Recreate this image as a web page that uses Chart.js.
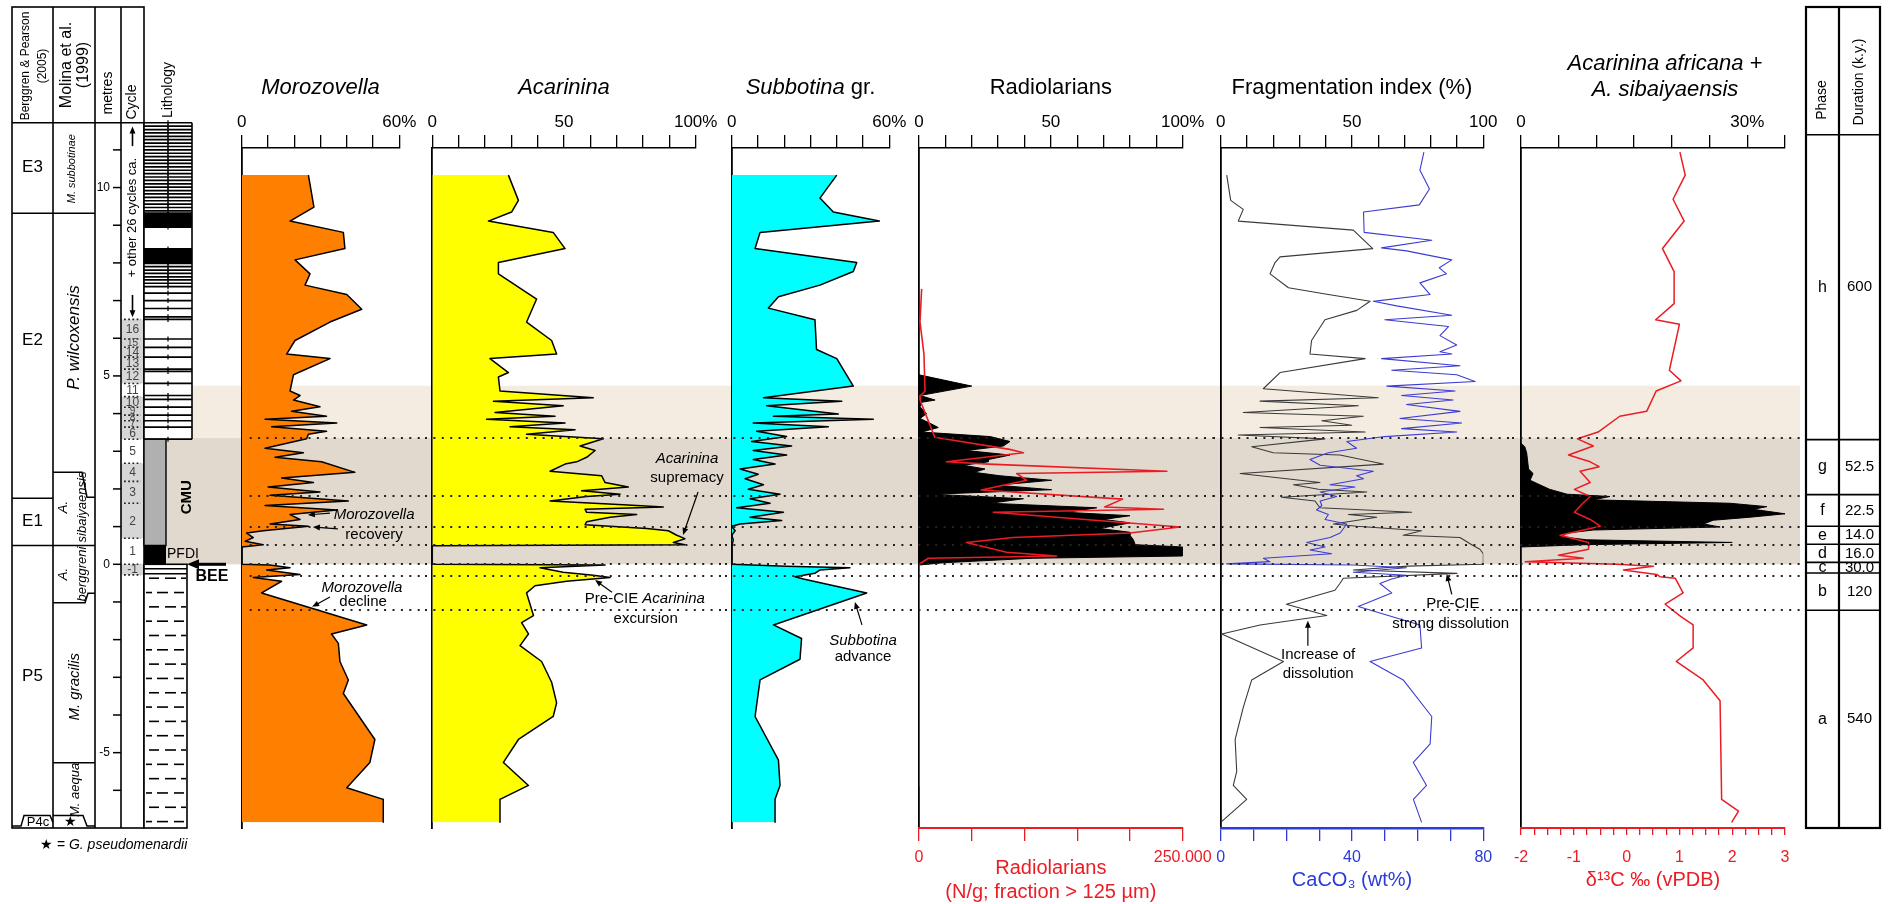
<!DOCTYPE html>
<html>
<head>
<meta charset="utf-8">
<title>Foraminiferal and geochemical profiles across the PETM</title>
<script src="https://cdn.jsdelivr.net/npm/chart.js@4.4.1/dist/chart.umd.min.js"></script>
<style>
  html, body { margin:0; padding:0; background:#fff; }
  body { width:1888px; height:904px; position:relative; overflow:hidden; }
  canvas { position:absolute; top:0; }
</style>
</head>
<body>
<canvas id="cStrat"></canvas>
<canvas id="cMoro"></canvas>
<canvas id="cAcar"></canvas>
<canvas id="cSubb"></canvas>
<canvas id="cRadio"></canvas>
<canvas id="cFrag"></canvas>
<canvas id="cAfr"></canvas>
<canvas id="cPhase"></canvas>
<script>
const FONT = "'Liberation Sans', Arial, Helvetica, sans-serif";
Chart.defaults.font.family = FONT;
Chart.defaults.color = '#000';

// ---------------- shared depth axis (metres) ----------------
const DEPTH_MIN = -7.0;
const DEPTH_MAX = 11.05;

// ---------------- Morozovella (%) ----------------
const moroDepth = [10.33, 9.48, 9.11, 8.81, 8.38, 8.08, 7.71, 7.41, 7.16, 6.77, 6.43, 5.94, 5.58, 5.46, 5.03, 4.60, 4.48, 4.36, 4.18, 4.06, 3.93, 3.85, 3.75, 3.65, 3.53, 3.45, 3.33, 3.08, 2.96, 2.84, 2.72, 2.44, 2.29, 2.17, 2.05, 1.92, 1.83, 1.68, 1.56, 1.44, 1.32, 1.19, 1.07, 1.01, 0.89, 0.83, 0.71, 0.61, 0.52, 0.46, 0.0, -0.02, -0.09, -0.15, -0.27, -0.35, -0.45, -0.76, -1.61, -1.85, -2.10, -2.58, -3.07, -3.43, -4.65, -5.26, -5.93, -6.24, -6.85];
const moroPct = [25.4, 27.5, 18.4, 38.7, 39.3, 20.3, 26.0, 24.1, 40.0, 45.7, 33.6, 20.3, 17.1, 33.6, 19.7, 18.4, 22.2, 19.7, 29.8, 19.0, 32.3, 8.9, 36.2, 11.4, 32.3, 25.4, 24.7, 8.9, 23.5, 12.7, 30.4, 43.1, 15.2, 27.3, 10.1, 29.8, 10.8, 40.6, 8.9, 36.2, 18.4, 22.2, 10.8, 25.4, 8.2, 1.9, 4.4, 1.3, 8.2, 0, 0, 10.8, 18.4, 9.5, 22.2, 4.4, 15.2, 7.6, 47.6, 34.2, 36.8, 37.4, 40.6, 38.7, 50.7, 48.8, 40.0, 53.9, 53.9];

// ---------------- Acarinina (%) ----------------
const acarDepth = [10.33, 9.66, 9.35, 9.11, 8.81, 8.38, 8.01, 7.71, 7.04, 6.43, 5.94, 5.58, 5.46, 5.09, 4.97, 4.60, 4.42, 4.33, 4.21, 4.03, 3.93, 3.85, 3.75, 3.65, 3.57, 3.45, 3.33, 3.14, 3.02, 2.84, 2.72, 2.66, 2.47, 2.35, 2.17, 2.05, 1.95, 1.86, 1.80, 1.68, 1.58, 1.52, 1.46, 1.38, 1.32, 1.25, 1.13, 1.05, 0.95, 0.89, 0.77, 0.68, 0.58, 0.52, 0.49, 0.0, -0.02, -0.09, -0.21, -0.29, -0.35, -0.45, -0.57, -0.76, -1.36, -1.55, -1.85, -2.16, -2.58, -3.13, -3.68, -4.04, -4.65, -5.26, -5.87, -6.24, -6.85];
const acarPct = [28.9, 32.7, 30.1, 21.3, 45.9, 50.4, 25.1, 25.1, 39.6, 35.8, 45.3, 47.2, 21.9, 28.9, 25.1, 25.7, 61.1, 23.2, 49.7, 23.8, 46.6, 20.6, 50.4, 29.5, 54.2, 35.8, 64.9, 56.1, 61.8, 58.6, 54.8, 50.4, 44.7, 64.3, 65.6, 74.4, 56.7, 71.3, 58.6, 44.7, 72.5, 87.7, 58.0, 58.6, 77.6, 67.5, 58.6, 58.0, 81.4, 89.6, 92.8, 95.9, 91.5, 95.9, 0, 0, 65.6, 40.9, 49.7, 61.1, 67.5, 51.0, 39.0, 35.8, 38.4, 33.9, 36.5, 33.3, 41.5, 45.3, 47.2, 45.9, 32.7, 27.0, 36.5, 25.7, 25.7];

// ---------------- Subbotina gr. (%) ----------------
const subbDepth = [10.33, 9.72, 9.35, 9.11, 8.81, 8.38, 8.01, 7.77, 7.41, 7.10, 6.80, 6.49, 5.70, 5.46, 4.73, 4.42, 4.33, 4.21, 3.99, 3.93, 3.85, 3.75, 3.65, 3.53, 3.39, 3.26, 3.14, 3.02, 2.90, 2.78, 2.66, 2.53, 2.39, 2.27, 2.11, 1.99, 1.86, 1.74, 1.62, 1.50, 1.38, 1.25, 1.16, 1.07, 1.01, 0.89, 0.77, 0.65, 0.46, 0.0, -0.05, -0.09, -0.15, -0.24, -0.33, -0.39, -0.76, -1.61, -1.97, -2.52, -3.07, -4.04, -5.20, -5.87, -6.24, -6.85];
const subbPct = [40, 33.6, 38.7, 56.2, 10.8, 8.9, 47.6, 46.3, 33.6, 17.8, 14, 31.7, 32.3, 40, 46.3, 12.1, 41.9, 13.3, 40.6, 15.9, 53.9, 8.2, 36.8, 9.5, 20.9, 7.6, 22.8, 8.2, 20.9, 8.2, 16.5, 3.2, 10.1, 5.1, 12.1, 6.3, 18.4, 7, 14.6, 1.9, 19.7, 7, 19, 3.2, 0, 1.3, 0, 0.6, 0, 0, 20.9, 45, 33.6, 31.7, 24.1, 27.3, 51.4, 15.9, 26.6, 26, 10.8, 8.9, 17.8, 18.4, 16.5, 16.5];

// ---------------- Radiolarians (% , black area) ----------------
const radPctDepth = [5.03, 4.73, 4.48, 4.36, 4.30, 4.18, 4.00, 3.87, 3.75, 3.63, 3.51, 3.39, 3.26, 3.14, 3.02, 2.90, 2.78, 2.72, 2.63, 2.53, 2.44, 2.35, 2.23, 2.10, 1.98, 1.86, 1.74, 1.62, 1.50, 1.38, 1.29, 1.19, 1.10, 0.95, 0.85, 0.77, 0.65, 0.52, 0.46, 0.22, 0.16, 0.04, -0.02];
const radPct = [0, 20, 0.4, 6.1, 1.0, 0.4, 2.9, 0.4, 4.0, 7.3, 1.0, 27, 34.5, 32, 18, 34.5, 26.3, 26.3, 16.8, 25, 21, 30.7, 50.3, 29.5, 50.3, 5.4, 39.6, 27, 67.4, 56, 80, 70, 80, 68.6, 80, 80, 81.3, 82, 100, 100, 43, 9, 0];

// ---------------- Radiolarians (N/g, red line, bottom axis) ----------------
const radAbsDepth = [7.31, 6.43, 5.58, 4.60, 4.48, 4.36, 3.37, 3.05, 2.96, 2.72, 2.66, 2.47, 2.41, 2.23, 1.97, 1.73, 1.52, 1.46, 1.38, 0.99, 0.83, 0.71, 0.58, 0.32, 0.22, 0.16, 0.0, -5.87];
const radAbs = [2500, 950, 4700, 5700, 1600, 950, 15000, 86000, 99000, 26000, 66000, 235000, 92600, 102000, 59000, 193000, 176000, 231700, 70500, 247500, 200000, 89000, 45000, 83000, 130500, 8800, 0, 0];

// ---------------- Fragmentation index (%) ----------------
const fragDepth = [10.33, 9.66, 9.42, 9.11, 8.87, 8.38, 8.16, 8.01, 7.71, 7.34, 7.16, 6.98, 6.74, 6.49, 5.94, 5.58, 5.46, 5.09, 4.66, 4.42, 4.33, 4.21, 4.03, 3.93, 3.81, 3.69, 3.63, 3.51, 3.43, 3.33, 3.12, 2.96, 2.90, 2.66, 2.41, 2.29, 2.17, 2.11, 1.99, 1.92, 1.78, 1.68, 1.50, 1.38, 1.32, 1.25, 1.07, 1.01, 0.89, 0.77, 0.71, 0.52, 0.40, 0.28, 0.0, -0.05, -0.15, -0.24, -0.37, -0.51, -0.69, -1.06, -1.36, -1.61, -1.85, -2.58, -3.07, -3.80, -4.65, -5.50, -5.87, -6.24, -6.85];
const fragIdx = [2.3, 3.8, 8.6, 6.7, 50.5, 57.9, 22.6, 20.7, 18.8, 25.8, 41, 56.9, 51.8, 39.7, 34.6, 34, 55, 22.6, 16.2, 60, 15, 52.4, 8.6, 54.3, 38.5, 49.9, 15, 55, 6.7, 39.7, 11.8, 20, 45.4, 61.9, 7.4, 22.6, 37.8, 27.7, 37.2, 55.6, 23.2, 35.9, 37.8, 72.7, 48.6, 59.4, 42.9, 51.8, 76.5, 69.5, 91.1, 95.6, 98.7, 100, 100, 71, 50.5, 90, 46.7, 45.4, 43.5, 25, 40.4, 15, 0.4, 23.9, 11.8, 8.6, 5.5, 6.1, 4.8, 9.9, 0];

// ---------------- CaCO3 (wt%) ----------------
const caco3Depth = [10.94, 10.46, 9.96, 9.54, 9.35, 8.81, 8.60, 8.40, 8.32, 8.08, 7.87, 7.71, 7.47, 7.16, 6.98, 6.86, 6.61, 6.49, 6.31, 6.07, 5.82, 5.64, 5.58, 5.46, 5.27, 5.15, 5.03, 4.85, 4.73, 4.60, 4.48, 4.36, 4.24, 4.06, 3.87, 3.75, 3.60, 3.51, 3.39, 3.26, 3.08, 2.96, 2.78, 2.63, 2.47, 2.35, 2.27, 2.11, 2.05, 1.92, 1.80, 1.68, 1.56, 1.44, 1.32, 1.19, 1.07, 0.95, 0.83, 0.71, 0.58, 0.46, 0.38, 0.28, 0.16, 0.07, 0.01, -0.02, -0.09, -0.21, -0.29, -0.39, -0.51, -0.76, -1.12, -1.61, -2.22, -2.58, -3.07, -4.04, -4.77, -5.26, -5.87, -6.24, -6.85];
const caco3 = [61.9, 60.7, 63.6, 60.5, 43.5, 43.7, 64.3, 49, 56.6, 70.4, 66.6, 68.8, 60.7, 63.8, 46.5, 53.6, 70.4, 50, 69.4, 66.8, 71.9, 66.8, 70.4, 49, 72.9, 52.1, 71.9, 77.5, 50.6, 71.4, 55.1, 70.8, 56.6, 72.9, 54.6, 73.4, 55.1, 71.9, 50, 38.4, 41.4, 32.8, 27.2, 30.3, 46.5, 41.4, 43.5, 33.3, 40.9, 30.3, 35.3, 30.3, 30.8, 29.2, 32.8, 31.8, 38.4, 37.4, 36.4, 33.3, 26.2, 31.8, 27.2, 33.8, 13, 15, 1.8, 40.4, 56.6, 40.4, 56.6, 52.1, 48.5, 52.1, 41.9, 60.7, 61.2, 45.5, 55.6, 64.3, 63.8, 58.7, 62.7, 58.7, 61.2];

// ---------------- A. africana + A. sibaiyaensis (%) ----------------
const afrDepth = [3.21, 3.12, 2.96, 2.53, 2.41, 2.23, 2.11, 1.99, 1.86, 1.80, 1.71, 1.62, 1.53, 1.46, 1.34, 1.25, 1.17, 1.07, 0.99, 0.91, 0.83, 0.73, 0.65, 0.58, 0.52, 0.46];
const afrPct = [0, 0.5, 0.75, 1.0, 1.6, 1.2, 2.5, 3.8, 6.1, 11.8, 9.6, 27.7, 32.6, 30.8, 35.0, 30.4, 25.5, 24.2, 26.4, 9.6, 6.1, 5.4, 8.7, 28, 8.3, 0];

// ---------------- δ13C (‰ vPDB) ----------------
const d13cDepth = [10.94, 10.33, 9.69, 9.11, 8.38, 7.77, 6.92, 6.49, 6.37, 5.15, 4.87, 4.60, 4.06, 3.93, 3.51, 3.33, 3.14, 2.90, 2.72, 2.59, 2.47, 2.17, 1.99, 1.80, 1.62, 1.38, 1.19, 1.01, 0.77, 0.58, 0.40, 0.24, 0.16, 0.07, 0.0, -0.05, -0.15, -0.27, -0.33, -0.37, -0.76, -1.06, -1.37, -1.61, -2.22, -2.58, -3.07, -3.62, -6.24, -6.55, -6.85];
const d13c = [1.01, 1.11, 0.88, 1.09, 0.68, 0.9, 0.9, 0.55, 1.0, 0.81, 1.03, 0.56, 0.38, -0.13, -0.54, -0.93, -0.63, -1.1, -0.69, -0.52, -0.88, -0.69, -0.99, -0.69, -0.83, -0.99, -0.69, -0.5, -1.26, -0.72, -0.72, -1.29, -0.82, -1.92, -0.19, 0.51, -0.06, 0.57, 0.63, 0.92, 1.07, 0.73, 1.01, 1.26, 1.26, 0.94, 1.45, 1.77, 1.8, 2.12, 1.99];

// ---------------- tick labels ----------------
const MORO_TICKS = [[0, '0'], [60, '60%']];
const ACAR_TICKS = [[0, '0'], [50, '50'], [100, '100%']];
const SUBB_TICKS = [[0, '0'], [60, '60%']];
const RAD_TICKS = [[0, '0'], [50, '50'], [100, '100%']];
const RADABS_TICKS = [[0, '0'], [250000, '250.000']];
const FRAG_TICKS = [[0, '0'], [50, '50'], [100, '100']];
const CACO3_TICKS = [[0, '0'], [40, '40'], [80, '80']];
const AFR_TICKS = [[0, '0'], [30, '30%']];
const D13C_TICKS = [[-2, '-2'], [-1, '-1'], [0, '0'], [1, '1'], [2, '2'], [3, '3']];

// ---------------- shading, phases ----------------
const CMU_BAND = [0, 3.35];
const RECOVERY_BAND = [3.35, 4.74];
const PHASE_DOTS = [3.35, 1.82, 1.0, 0.5, 0.0, -0.3, -1.22];
const PHASE_NAMES = ['h', 'g', 'f', 'e', 'd', 'c', 'b', 'a'];
const PHASE_DUR = ['600', '52.5', '22.5', '14.0', '16.0', '30.0', '120', '540'];
const PHASE_TOPS = [11.4, 3.31, 1.85, 1.01, 0.53, 0.05, -0.23, -1.22];

// ---------------- stratigraphic column ----------------
const STRAT_TOP = 11.72;
const BP_NAMES = ['E3', 'E2', 'E1', 'P5'];
const BP_LABEL_M = [10.55, 5.95, 1.13, -2.98];
const BP_BOUNDS = [9.32, 1.75, 0.5];
const CYCLES = [
  ['16', 6.50, 5.98, 1], ['15', 5.98, 5.76, 1], ['14', 5.76, 5.50, 1], ['13', 5.50, 5.18, 1],
  ['12', 5.18, 4.80, 1], ['11', 4.80, 4.45, 0], ['10', 4.45, 4.17, 1], ['9', 4.17, 3.96, 1],
  ['8', 3.96, 3.81, 1], ['7', 3.81, 3.64, 1], ['6', 3.64, 3.32, 1], ['5', 3.32, 2.68, 0],
  ['4', 2.68, 2.20, 1], ['3', 2.20, 1.62, 1], ['2', 1.62, 0.69, 1], ['1', 0.69, 0.0, 0], ['-1', 0.0, -0.28, 1]
];
const LITHO_BOUNDS = [11.72, 11.63, 11.54, 11.45, 11.36, 11.27, 11.18, 11.09, 11.00, 10.91, 10.82, 10.73, 10.64, 10.55, 10.46, 10.37, 10.28, 10.19, 10.10, 10.01, 9.92, 9.83, 9.74, 9.65, 9.56, 9.47, 9.38, 9.32, 8.95, 8.37, 7.99, 7.90, 7.81, 7.72, 7.63, 7.55, 7.46, 7.37, 7.20, 7.00, 6.79, 6.57, 6.50, 5.98, 5.76, 5.50, 5.18, 5.12, 4.80, 4.48, 4.38, 4.17, 3.96, 3.81, 3.64, 3.32];
const LITHO_BLACK = [[9.32, 8.95], [8.37, 7.99]];
const CMU_LITHO = [3.32, 0.5];
const PFDI_LITHO = [0.5, 0.0];
const MARL_ROWS = [-0.37, -0.75, -1.13, -1.51, -1.89, -2.27, -2.65, -3.03, -3.41, -3.79, -4.17, -4.55, -4.93, -5.31, -5.69, -6.07, -6.45, -6.83];
const METRE_TICKS = [-6, -5, -4, -3, -2, -1, 0, 1, 2, 3, 4, 5, 6, 7, 8, 9, 10, 11];
const METRE_LABELS = [-5, 0, 5, 10];

// ---------------- colours ----------------
const RED = '#ec1c24', BLUE = '#2b3bd8', BLUE_LINE = '#3c3cd2', GRAY_LINE = '#3a3a3a';
const BAND_LIGHT = '#f4ece1', BAND_DARK = '#e1d9ce';

// ---------------- helpers ----------------
const I = t => ({t, i: true});
const N = t => ({t});
function pts(d, v) { return d.map((y, k) => ({x: v[k], y})); }
function fontStr(size, it, bold) { return (it ? 'italic ' : '') + (bold ? 'bold ' : '') + size + 'px ' + FONT; }
function drawRich(ctx, segs, cx, cy, size, color, align) {
  ctx.save();
  ctx.textBaseline = 'middle'; ctx.textAlign = 'left'; ctx.fillStyle = color || '#000';
  let w = 0;
  segs.forEach(s => { ctx.font = fontStr(size, s.i, s.b); w += ctx.measureText(s.t).width; });
  let x = align === 'left' ? cx : (align === 'right' ? cx - w : cx - w / 2);
  segs.forEach(s => { ctx.font = fontStr(size, s.i, s.b); ctx.fillText(s.t, x, cy); x += ctx.measureText(s.t).width; });
  ctx.restore();
}
function rotText(ctx, lines, cx, cy, font, lh) {
  ctx.save(); ctx.translate(cx, cy); ctx.rotate(-Math.PI / 2);
  ctx.font = font; ctx.fillStyle = '#000'; ctx.textAlign = 'center'; ctx.textBaseline = 'middle';
  const n = lines.length;
  lines.forEach((t, k) => ctx.fillText(t, 0, (k - (n - 1) / 2) * (lh || 16)));
  ctx.restore();
}
function arrow(ctx, x1, y1, x2, y2, head, width) {
  head = head || 7; width = width || 1.2;
  const a = Math.atan2(y2 - y1, x2 - x1);
  ctx.save(); ctx.strokeStyle = '#000'; ctx.fillStyle = '#000'; ctx.lineWidth = width;
  ctx.beginPath(); ctx.moveTo(x1, y1); ctx.lineTo(x2 - Math.cos(a) * head * 0.7, y2 - Math.sin(a) * head * 0.7); ctx.stroke();
  const hw = head * 0.42;
  ctx.beginPath(); ctx.moveTo(x2, y2);
  ctx.lineTo(x2 - head * Math.cos(a) + hw * Math.sin(a), y2 - head * Math.sin(a) - hw * Math.cos(a));
  ctx.lineTo(x2 - head * Math.cos(a) - hw * Math.sin(a), y2 - head * Math.sin(a) + hw * Math.cos(a));
  ctx.closePath(); ctx.fill(); ctx.restore();
}
function paintBands(ctx, ys, x0, x1) {
  ctx.save();
  let a = ys.getPixelForValue(RECOVERY_BAND[1]), b = ys.getPixelForValue(RECOVERY_BAND[0]);
  ctx.fillStyle = BAND_LIGHT; ctx.fillRect(x0, a, x1 - x0, b - a);
  a = ys.getPixelForValue(CMU_BAND[1]); b = ys.getPixelForValue(CMU_BAND[0]);
  ctx.fillStyle = BAND_DARK; ctx.fillRect(x0, a, x1 - x0, b - a);
  ctx.restore();
}
function paintDots(ctx, ys, x0, x1) {
  ctx.save(); ctx.strokeStyle = '#222'; ctx.lineWidth = 2; ctx.setLineDash([2, 6.4]);
  PHASE_DOTS.forEach(m => {
    const y = Math.round(ys.getPixelForValue(m));
    ctx.beginPath(); ctx.moveTo(x0, y); ctx.lineTo(x1, y); ctx.stroke();
  });
  ctx.restore();
}
function tickCb(pairs) {
  return v => { const f = pairs.find(p => Math.abs(p[0] - v) < 1e-9); return f ? f[1] : ''; };
}
function xAxis(pos, min, max, step, pairs, opt) {
  opt = opt || {};
  const color = opt.color || '#000';
  const top = pos === 'top';
  const cfg = {
    type: 'linear', position: pos, min, max,
    afterFit(s) { s.height = top ? 148 : 76; s.paddingLeft = 0; s.paddingRight = 0; },
    ticks: { stepSize: step, autoSkip: false, maxRotation: 0, minRotation: 0, color,
             font: {size: top ? 17 : 16}, padding: top ? 2 : (opt.labelPad == null ? 7 : opt.labelPad),
             callback: tickCb(pairs) },
    grid: { drawOnChartArea: false, drawTicks: true, tickLength: opt.tickLength || 13,
            color, tickColor: color, lineWidth: 1.3, tickWidth: 1.3 },
    border: { display: true, color, width: opt.borderWidth || 1.6 },
    title: { display: false }
  };
  if (opt.title) {
    cfg.title = { display: true, text: opt.title, color, font: {size: 20},
                  padding: {top: 0, bottom: opt.titlePad || 0} };
  }
  return cfg;
}
function yAxis() {
  return { type: 'linear', position: 'left', min: DEPTH_MIN, max: DEPTH_MAX,
           afterFit(s) { s.width = 0; },
           ticks: { display: false }, grid: { display: false },
           border: { display: true, color: '#000', width: 1.8 } };
}
function decoPlugin(d) {
  return {
    id: 'deco',
    beforeDraw(chart) { paintBands(chart.ctx, chart.scales.y, 0, chart.width); },
    afterDatasetsDraw(chart) {
      const ctx = chart.ctx, xs = chart.scales.x, ys = chart.scales.y;
      paintDots(ctx, ys, d.dotsFromArea ? chart.chartArea.left + 8 : 0, chart.width);
      (d.notes || []).forEach(n => drawRich(ctx, n.segs, xs.getPixelForValue(n.x), ys.getPixelForValue(n.m), 15));
      (d.arrows || []).forEach(a => arrow(ctx, xs.getPixelForValue(a[0]), ys.getPixelForValue(a[1]),
                                              xs.getPixelForValue(a[2]), ys.getPixelForValue(a[3])));
    },
    afterDraw(chart) {
      const ca = chart.chartArea;
      const cx = (ca.left + ca.right) / 2 + (d.titleDx || 0);
      const y0 = d.title.length === 1 ? 88 : 64;
      d.title.forEach((segs, k) => drawRich(chart.ctx, segs, cx, y0 + k * 26, 22));
    }
  };
}
function area(data, xAxisID, fillColor, bw) {
  return { data, xAxisID, yAxisID: 'y', borderColor: '#000', borderWidth: bw || 1.5,
           backgroundColor: fillColor, fill: 'origin', pointRadius: 0, tension: 0, borderJoinStyle: 'round' };
}
function curve(data, xAxisID, color, bw) {
  return { data, xAxisID, yAxisID: 'y', borderColor: color, borderWidth: bw || 1.5,
           fill: false, pointRadius: 0, tension: 0, borderJoinStyle: 'round' };
}
function makePanel(id, left, right, ax0, ax1, datasets, scales, deco) {
  const cv = document.getElementById(id);
  cv.width = right - left; cv.height = 904; cv.style.left = left + 'px';
  return new Chart(cv, {
    type: 'line',
    data: { datasets },
    options: {
      indexAxis: 'y', responsive: false, animation: false, devicePixelRatio: 1,
      layout: { padding: { left: ax0 - left, right: right - ax1, top: 0, bottom: scales.x2 ? 0 : 76 } },
      scales: Object.assign({ y: yAxis() }, scales),
      plugins: { legend: {display: false}, tooltip: {enabled: false}, title: {display: false} }
    },
    plugins: [decoPlugin(deco)]
  });
}

// ---------------- panels ----------------
makePanel('cMoro', 236, 425, 241.7, 399.3,
  [area(pts(moroDepth, moroPct), 'x', '#ff8000')],
  { x: xAxis('top', 0, 60, 10, MORO_TICKS) },
  { title: [[I('Morozovella')]], dotsFromArea: true,
    notes: [ {segs: [I('Morozovella')], x: 50.4, m: 1.32}, {segs: [N('recovery')], x: 50.4, m: 0.77},
             {segs: [I('Morozovella')], x: 45.8, m: -0.63}, {segs: [N('decline')], x: 46.2, m: -1.0} ],
    arrows: [[33.6, 1.36, 25.2, 1.31], [36.6, 0.94, 27.1, 0.99], [33.6, -0.87, 26.8, -1.13]] });

makePanel('cAcar', 425, 725, 432.3, 695.7,
  [area(pts(acarDepth, acarPct), 'x', '#ffff00')],
  { x: xAxis('top', 0, 100, 10, ACAR_TICKS) },
  { title: [[I('Acarinina')]],
    notes: [ {segs: [I('Acarinina')], x: 96.7, m: 2.8}, {segs: [N('supremacy')], x: 96.7, m: 2.29},
             {segs: [N('Pre-CIE '), I('Acarinina')], x: 80.7, m: -0.91}, {segs: [N('excursion')], x: 81, m: -1.46} ],
    arrows: [[100.9, 1.92, 95.2, 0.78], [68.2, -0.74, 61.8, -0.42]] });

makePanel('cSubb', 725, 910, 731.7, 889.3,
  [area(pts(subbDepth, subbPct), 'x', '#00ffff')],
  { x: xAxis('top', 0, 60, 10, SUBB_TICKS) },
  { title: [[I('Subbotina'), N(' gr.')]],
    notes: [ {segs: [I('Subbotina')], x: 50, m: -2.03}, {segs: [N('advance')], x: 50, m: -2.46} ],
    arrows: [[49.6, -1.61, 46.9, -1.0]] });

makePanel('cRadio', 910, 1213, 919, 1182.7,
  [curve(pts(radAbsDepth, radAbs), 'x2', RED, 1.6), area(pts(radPctDepth, radPct), 'x', '#000', 1)],
  { x: xAxis('top', 0, 100, 10, RAD_TICKS),
    x2: xAxis('bottom', 0, 250000, 50000, RADABS_TICKS,
              {color: RED, title: ['Radiolarians', '(N/g; fraction > 125 µm)'], titlePad: 0, borderWidth: 2}) },
  { title: [[N('Radiolarians')]] });

makePanel('cFrag', 1213, 1520, 1220.7, 1483.3,
  [curve(pts(caco3Depth, caco3), 'x2', BLUE_LINE, 1.1), curve(pts(fragDepth, fragIdx), 'x', GRAY_LINE, 1.1)],
  { x: xAxis('top', 0, 100, 10, FRAG_TICKS),
    x2: xAxis('bottom', 0, 80, 10, CACO3_TICKS, {color: BLUE, title: 'CaCO\u2083 (wt%)', titlePad: 12, borderWidth: 2.4}) },
  { title: [[N('Fragmentation index (%)')]],
    notes: [ {segs: [N('Increase of')], x: 37.1, m: -2.4}, {segs: [N('dissolution')], x: 37.1, m: -2.92},
             {segs: [N('Pre-CIE')], x: 88.4, m: -1.06}, {segs: [N('strong dissolution')], x: 87.6, m: -1.58} ],
    arrows: [[33.2, -2.16, 33.2, -1.5], [88.0, -0.8, 86.1, -0.26]] });

makePanel('cAfr', 1512, 1800, 1521, 1785,
  [curve(pts(d13cDepth, d13c), 'x2', RED, 1.5), area(pts(afrDepth, afrPct), 'x', '#000', 1)],
  { x: xAxis('top', 0, 35, 5, AFR_TICKS),
    x2: xAxis('bottom', -2, 3, 0.25, D13C_TICKS, {color: RED, tickLength: 7, labelPad: 13, title: '\u03b4\u00b9\u00b3C \u2030 (vPDB)', titlePad: 12, borderWidth: 2}) },
  { title: [[I('Acarinina africana'), N(' +')], [I('A. sibaiyaensis')]], titleDx: 12 });

// ---------------- stratigraphic column (left) ----------------
const COLX = {a: 12, b: 53, c: 95, d: 121, e: 144, lit: 192, litLow: 187, cmu: 166, band: 166};
const HEAD_TOP = 7;
const stratPlugin = {
  id: 'strat',
  beforeDraw(chart) {
    paintBands(chart.ctx, chart.scales.y, chart.scales.x.getPixelForValue(COLX.band), chart.width);
  },
  afterDraw(chart) {
    const ctx = chart.ctx, xs = chart.scales.x, ys = chart.scales.y;
    const X = v => xs.getPixelForValue(v), Y = m => ys.getPixelForValue(m);
    const line = (x1, y1, x2, y2, w) => { ctx.lineWidth = w || 1.5; ctx.beginPath(); ctx.moveTo(x1, y1); ctx.lineTo(x2, y2); ctx.stroke(); };
    const poly = (p, w) => { ctx.lineWidth = w || 1.5; ctx.beginPath(); p.forEach((q, k) => { const px = X(q[0]), py = Y(q[1]); k ? ctx.lineTo(px, py) : ctx.moveTo(px, py); }); ctx.stroke(); };
    const yTop = Y(STRAT_TOP), yBot = Y(DEPTH_MIN);
    ctx.save();
    ctx.strokeStyle = '#000';

    // cycle column shading + separators + numbers
    CYCLES.forEach(c => {
      if (c[3]) { ctx.fillStyle = '#d6d6d6'; ctx.fillRect(X(COLX.d), Y(c[1]), X(COLX.e) - X(COLX.d), Y(c[2]) - Y(c[1])); }
    });
    ctx.save(); ctx.setLineDash([1.8, 2.4]); ctx.strokeStyle = '#222';
    CYCLES.forEach(c => { line(X(COLX.d) + 3, Y(c[1]), X(COLX.e) - 3, Y(c[1]), 1.6); });
    line(X(COLX.d) + 3, Y(CYCLES[CYCLES.length - 1][2]), X(COLX.e) - 3, Y(CYCLES[CYCLES.length - 1][2]), 1.6);
    ctx.restore();
    CYCLES.forEach(c => {
      const h = Y(c[2]) - Y(c[1]);
      ctx.font = (h < 9 ? 10 : 12) + 'px ' + FONT; ctx.fillStyle = '#444'; ctx.textAlign = 'center'; ctx.textBaseline = 'middle';
      ctx.fillText(c[0], X((COLX.d + COLX.e) / 2), (Y(c[1]) + Y(c[2])) / 2 + 0.5);
    });

    // frame
    ctx.lineWidth = 1.6;
    ctx.strokeRect(X(COLX.a), HEAD_TOP, X(COLX.e) - X(COLX.a), yBot - HEAD_TOP);
    [COLX.b, COLX.c, COLX.d].forEach(c => line(X(c), HEAD_TOP, X(c), yBot, 1.6));
    line(X(COLX.a), yTop, X(COLX.e), yTop, 1.6);

    // Berggren & Pearson zones
    BP_BOUNDS.forEach(m => line(X(COLX.a), Y(m), X(COLX.b), Y(m)));
    poly([[12, -6.95], [21, -6.95], [24, -6.67], [50, -6.67], [53, -6.85]]);
    ctx.fillStyle = '#000'; ctx.textAlign = 'center'; ctx.textBaseline = 'middle';
    ctx.font = '17px ' + FONT;
    BP_NAMES.forEach((n, k) => ctx.fillText(n, X(32.5), Y(BP_LABEL_M[k])));
    ctx.font = '13px ' + FONT; ctx.fillText('P4c', X(38), Y(-6.84));

    // Molina et al. zones
    line(X(COLX.b), Y(9.32), X(COLX.c), Y(9.32));
    poly([[53, 2.44], [82, 2.44], [87, 1.78], [95, 1.78]]);
    line(X(COLX.b), Y(0.5), X(COLX.c), Y(0.5));
    poly([[53, -1.02], [85, -1.02], [88, -0.77], [95, -0.77]]);
    line(X(COLX.b), Y(-5.27), X(COLX.c), Y(-5.27));
    poly([[53, -6.67], [83, -6.67], [87, -6.95], [95, -6.95]]);
    rotText(ctx, ['M. subbotinae'], X(72), Y(10.5), 'italic 11px ' + FONT);
    rotText(ctx, ['P. wilcoxensis'], X(74), Y(6.02), 'italic 17px ' + FONT);
    rotText(ctx, ['A.', 'sibaiyaensis'], X(72.5), Y(1.52), 'italic 13px ' + FONT, 19);
    rotText(ctx, ['A.', 'berggreni'], X(72.5), Y(-0.26), 'italic 13px ' + FONT, 19);
    rotText(ctx, ['M. gracilis'], X(75), Y(-3.25), 'italic 15px ' + FONT);
    rotText(ctx, ['M. aequa'], X(75), Y(-5.99), 'italic 13px ' + FONT);
    ctx.font = '14px ' + FONT; ctx.fillStyle = '#000'; ctx.textAlign = 'center'; ctx.textBaseline = 'middle';
    ctx.fillText('\u2605', X(70), Y(-6.84));

    // headers
    rotText(ctx, ['Berggren & Pearson', '(2005)'], X(34), 66, '12px ' + FONT, 17);
    rotText(ctx, ['Molina et al.', '(1999)'], X(75), 65, '16px ' + FONT, 17);
    rotText(ctx, ['metres'], X(108), 93, '14px ' + FONT);
    rotText(ctx, ['Cycle'], X(132.5), 102, '14px ' + FONT);
    rotText(ctx, ['Lithology'], X(168), 90, '14px ' + FONT);

    // metres ticks
    METRE_TICKS.forEach(m => line(X(113), Y(m), X(COLX.d), Y(m), 1.5));
    ctx.font = '12px ' + FONT; ctx.textAlign = 'right'; ctx.textBaseline = 'middle'; ctx.fillStyle = '#000';
    METRE_LABELS.forEach(m => ctx.fillText(String(m), X(110), Y(m)));

    // "+ other 26 cycles ca."
    rotText(ctx, ['+ other 26 cycles ca.'], X(132.5), Y(9.2), '13px ' + FONT);
    arrow(ctx, X(132.5), Y(11.1), X(132.5), Y(11.62), 7, 1.6);
    arrow(ctx, X(132.5), Y(7.15), X(132.5), Y(6.56), 7, 1.6);

    // lithology: upper bedded part
    const lx0 = X(COLX.e), lx1 = X(COLX.lit), lx1b = X(COLX.litLow);
    const yUpBot = Y(LITHO_BOUNDS[LITHO_BOUNDS.length - 1]);
    ctx.fillStyle = '#fff'; ctx.fillRect(lx0, yTop, lx1 - lx0, yUpBot - yTop);
    ctx.fillStyle = '#000';
    LITHO_BLACK.forEach(b => ctx.fillRect(lx0, Y(b[0]), lx1 - lx0, Y(b[1]) - Y(b[0])));
    LITHO_BOUNDS.forEach(m => line(lx0, Y(m), lx1, Y(m), 1.7));
    LITHO_BOUNDS.forEach(m => line(X(168), Y(m) - 2.5, X(168), Y(m) + 2.5, 1.2));
    line(lx0, yTop, lx0, yUpBot, 1.6); line(lx1, yTop, lx1, yUpBot, 1.6);
    // CMU grey unit and PFDI
    ctx.fillStyle = '#b0b0b0';
    ctx.fillRect(lx0, Y(CMU_LITHO[0]), X(COLX.cmu) - lx0, Y(CMU_LITHO[1]) - Y(CMU_LITHO[0]));
    ctx.lineWidth = 1.4; ctx.strokeRect(lx0, Y(CMU_LITHO[0]), X(COLX.cmu) - lx0, Y(CMU_LITHO[1]) - Y(CMU_LITHO[0]));
    ctx.fillStyle = '#000';
    ctx.fillRect(lx0, Y(PFDI_LITHO[0]), X(COLX.cmu) - lx0, Y(PFDI_LITHO[1]) - Y(PFDI_LITHO[0]));
    // lower marly part
    ctx.fillStyle = '#fff'; ctx.fillRect(lx0, Y(0), lx1b - lx0, yBot - Y(0));
    ctx.lineWidth = 1.6; ctx.strokeRect(lx0, Y(0), lx1b - lx0, yBot - Y(0));
    line(lx0, Y(-0.12), lx1b, Y(-0.12), 1.4); line(lx0, Y(-0.25), lx1b, Y(-0.25), 1.4);
    MARL_ROWS.forEach((m, k) => {
      const segs = k % 2 ? [[146, 152], [157, 168], [174, 184]] : [[149, 159], [165, 176], [181, 186]];
      segs.forEach(s => line(X(s[0]), Y(m), X(s[1]), Y(m), 1.6));
    });

    // CMU / PFDI / BEE
    rotText(ctx, ['CMU'], X(187), Y(1.78), 'bold 15px ' + FONT);
    ctx.font = '14px ' + FONT; ctx.textAlign = 'left'; ctx.textBaseline = 'middle'; ctx.fillStyle = '#000';
    ctx.fillText('PFDI', X(167), Y(0.27));
    ctx.font = 'bold 16px ' + FONT; ctx.textAlign = 'center';
    ctx.fillText('BEE', X(212), Y(-0.33));
    arrow(ctx, X(226), Y(0), X(187), Y(0), 12, 3);

    // footnote
    drawRich(ctx, [N('\u2605 = '), I('G. pseudomenardii')], X(40), 845, 14, '#000', 'left');
    ctx.restore();
  }
};
(function () {
  const cv = document.getElementById('cStrat');
  cv.width = 238; cv.height = 904; cv.style.left = '0px';
  new Chart(cv, {
    type: 'scatter', data: { datasets: [] },
    options: { responsive: false, animation: false, devicePixelRatio: 1,
      layout: { padding: { left: 0, right: 0, top: 148, bottom: 76 } },
      scales: { x: { type: 'linear', display: false, min: 0, max: 238 },
                y: { type: 'linear', display: false, min: DEPTH_MIN, max: DEPTH_MAX } },
      plugins: { legend: {display: false}, tooltip: {enabled: false} } },
    plugins: [stratPlugin]
  });
})();

// ---------------- phase / duration table (right) ----------------
const phasePlugin = {
  id: 'phase',
  afterDraw(chart) {
    const ctx = chart.ctx, xs = chart.scales.x, ys = chart.scales.y;
    const X = v => xs.getPixelForValue(v), Y = m => ys.getPixelForValue(m);
    const xl = X(1806), xm = X(1839), xr = X(1880);
    const hb = Y(PHASE_TOPS[0]), bot = Y(DEPTH_MIN);
    ctx.save(); ctx.strokeStyle = '#000';
    ctx.lineWidth = 2.2; ctx.strokeRect(xl, 7, xr - xl, bot - 7);
    ctx.beginPath(); ctx.moveTo(xm, 7); ctx.lineTo(xm, bot); ctx.stroke();
    ctx.lineWidth = 1.6;
    ctx.beginPath(); ctx.moveTo(xl, hb); ctx.lineTo(xr, hb); ctx.stroke();
    PHASE_TOPS.slice(1).forEach(m => { ctx.beginPath(); ctx.moveTo(xl, Y(m)); ctx.lineTo(xr, Y(m)); ctx.stroke(); });
    ctx.fillStyle = '#000'; ctx.textAlign = 'center'; ctx.textBaseline = 'middle';
    PHASE_NAMES.forEach((p, k) => {
      const yt = Y(PHASE_TOPS[k]), yb = k + 1 < PHASE_TOPS.length ? Y(PHASE_TOPS[k + 1]) : bot;
      const yc = (yt + yb) / 2;
      ctx.font = '16px ' + FONT; ctx.fillText(p, (xl + xm) / 2, yc);
      ctx.font = '15px ' + FONT; ctx.fillText(PHASE_DUR[k], (xm + xr) / 2, yc);
    });
    rotText(ctx, ['Phase'], (xl + xm) / 2, 100, '14px ' + FONT);
    rotText(ctx, ['Duration (k.y.)'], (xm + xr) / 2, 82, '14px ' + FONT);
    ctx.restore();
  }
};
(function () {
  const cv = document.getElementById('cPhase');
  cv.width = 88; cv.height = 904; cv.style.left = '1800px';
  new Chart(cv, {
    type: 'scatter', data: { datasets: [] },
    options: { responsive: false, animation: false, devicePixelRatio: 1,
      layout: { padding: { left: 0, right: 0, top: 148, bottom: 76 } },
      scales: { x: { type: 'linear', display: false, min: 1800, max: 1888 },
                y: { type: 'linear', display: false, min: DEPTH_MIN, max: DEPTH_MAX } },
      plugins: { legend: {display: false}, tooltip: {enabled: false} } },
    plugins: [phasePlugin]
  });
})();
</script>
</body>
</html>
